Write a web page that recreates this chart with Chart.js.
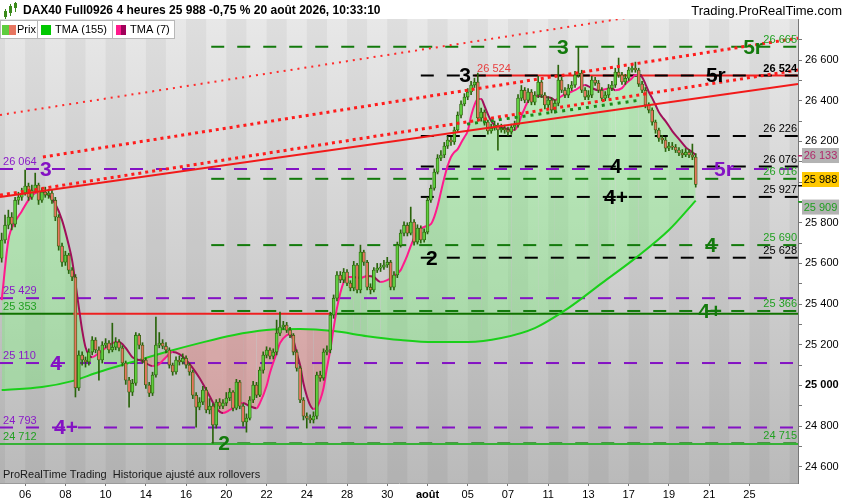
<!DOCTYPE html>
<html lang="fr">
<head>
  <meta charset="UTF-8">
  <title>DAX40 Full0926 4 heures</title>
  <script src="https://cdn.jsdelivr.net/npm/chart.js"></script>
  <style>
    html, body { margin: 0; padding: 0; background: #fff; }
    canvas { display: block; }
  </style>
</head>
<body>
  <canvas id="myChart" width="850" height="500"></canvas>

  <script>
    // bougies 4 heures, une case par barre (6 barres par jour)
    const opens = [
      25626, 25715, 25788, 25828, 25793, 25911, 25926, 25946, 25980, 25926,
      25960, 25985, 25911, 25951, 25936, 25946, 25911, 25828, 25685, 25606,
      25641, 25567, 25533, 24987, 25149, 25125, 25115, 25164, 25223, 25174,
      25125, 25198, 25208, 25174, 25188, 25213, 25184, 25110, 25026, 24967,
      25011, 25247, 25198, 25125, 25002, 24962, 25051, 25198, 25208, 25193,
      25174, 25100, 25066, 25125, 25115, 25134, 25100, 25066, 24952, 24893,
      24918, 24977, 24879, 24898, 24805, 24918, 24898, 24913, 24938, 24967,
      24888, 25016, 24898, 24820, 24839, 24928, 25002, 24952, 25075, 25149,
      25174, 25144, 25164, 25257, 25287, 25297, 25272, 25247, 25164, 25085,
      24928, 24849, 24839, 24830, 24849, 25051, 25036, 25164, 25174, 25346,
      25429, 25543, 25518, 25557, 25503, 25479, 25592, 25469, 25656, 25606,
      25483, 25469, 25567, 25577, 25582, 25592, 25606, 25483, 25543, 25690,
      25749, 25788, 25749, 25803, 25705, 25774, 25715, 25754, 25911, 25970,
      26049, 26118, 26133, 26177, 26207, 26197, 26256, 26329, 26384, 26418,
      26443, 26477, 26492, 26315, 26344, 26295, 26251, 26265, 26280, 26256,
      26265, 26256, 26246, 26270, 26280, 26413, 26452, 26403, 26443, 26393,
      26428, 26492, 26428, 26379, 26403, 26354, 26388, 26502, 26452, 26428,
      26462, 26477, 26526, 26536, 26452, 26418, 26428, 26502, 26487, 26452,
      26413, 26428, 26462, 26477, 26541, 26526, 26492, 26511, 26551, 26561,
      26551, 26482, 26452, 26379, 26354, 26295, 26256, 26216, 26207, 26167,
      26177, 26172, 26157, 26143, 26133, 26147, 26133, 26123
    ];
    const highs = [
      25749, 25838, 25862, 25850, 25925, 25950, 25970, 26059, 25995, 25985,
      26044, 25995, 25970, 25975, 25965, 25960, 25925, 25840, 25700, 25660,
      25650, 25580, 25545, 25170, 25165, 25140, 25180, 25240, 25235, 25190,
      25215, 25230, 25220, 25306, 25235, 25225, 25195, 25120, 25040, 25030,
      25260, 25255, 25210, 25135, 25015, 25065, 25336, 25260, 25225, 25210,
      25185, 25110, 25140, 25145, 25155, 25145, 25110, 25075, 24965, 24940,
      24995, 24990, 24935, 24910, 24930, 24935, 24930, 24965, 24985, 24975,
      25030, 25025, 24910, 24860, 24945, 25020, 25015, 25090, 25165, 25190,
      25185, 25180, 25321, 25361, 25315, 25310, 25285, 25255, 25175, 25095,
      24940, 24865, 24855, 24870, 25065, 25070, 25180, 25195, 25360, 25445,
      25560, 25560, 25575, 25570, 25515, 25610, 25600, 25690, 25665, 25615,
      25500, 25580, 25600, 25600, 25615, 25630, 25615, 25560, 25705, 25765,
      25805, 25800, 25877, 25815, 25790, 25785, 25770, 25925, 25985, 26065,
      26135, 26155, 26195, 26225, 26220, 26270, 26345, 26400, 26435, 26460,
      26495, 26511, 26536, 26364, 26355, 26305, 26285, 26300, 26290, 26285,
      26280, 26270, 26285, 26300, 26430, 26475, 26465, 26460, 26455, 26445,
      26520, 26500, 26440, 26420, 26415, 26405, 26575, 26515, 26465, 26480,
      26495, 26545, 26664, 26550, 26465, 26450, 26520, 26515, 26500, 26465,
      26445, 26480, 26495, 26560, 26610, 26540, 26530, 26565, 26580, 26590,
      26560, 26495, 26465, 26390, 26365, 26305, 26265, 26230, 26220, 26195,
      26195, 26185, 26170, 26160, 26165, 26160, 26187, 26140
    ];
    const lows = [
      25606, 25700, 25770, 25765, 25780, 25890, 25910, 25935, 25910, 25915,
      25950, 25890, 25900, 25925, 25920, 25895, 25810, 25665, 25585, 25590,
      25550, 25515, 24943, 24975, 25100, 25090, 25100, 25150, 25160, 25026,
      25110, 25185, 25160, 25165, 25175, 25170, 25095, 25005, 24893, 24950,
      25000, 25180, 25110, 24985, 24945, 24950, 25040, 25185, 25180, 25160,
      25085, 25050, 25055, 25100, 25105, 25085, 25050, 24935, 24795, 24880,
      24905, 24865, 24860, 24716, 24790, 24885, 24885, 24900, 24925, 24875,
      24880, 24885, 24800, 24770, 24830, 24915, 24940, 24945, 25060, 25135,
      25130, 25130, 25150, 25245, 25275, 25260, 25235, 25150, 25070, 24915,
      24830, 24790, 24815, 24815, 24835, 25020, 25025, 25150, 25160, 25330,
      25415, 25505, 25505, 25490, 25465, 25465, 25455, 25455, 25590, 25470,
      25450, 25460, 25555, 25560, 25570, 25580, 25470, 25470, 25530, 25680,
      25735, 25735, 25740, 25690, 25695, 25700, 25705, 25745, 25900, 25960,
      26040, 26105, 26120, 26165, 26180, 26185, 26245, 26315, 26375, 26405,
      26430, 26465, 26300, 26300, 26280, 26235, 26240, 26255, 26157, 26245,
      26240, 26230, 26235, 26255, 26270, 26400, 26390, 26390, 26380, 26380,
      26415, 26415, 26360, 26365, 26340, 26340, 26375, 26440, 26415, 26415,
      26450, 26465, 26515, 26440, 26405, 26405, 26415, 26475, 26440, 26400,
      26400, 26415, 26450, 26465, 26515, 26480, 26480, 26500, 26540, 26540,
      26470, 26440, 26365, 26340, 26280, 26240, 26200, 26190, 26150, 26155,
      26160, 26145, 26130, 26120, 26125, 26120, 26110, 25975
    ];
    const closes = [
      25715, 25788, 25828, 25793, 25911, 25926, 25946, 25980, 25926, 25960,
      25985, 25911, 25951, 25936, 25946, 25911, 25828, 25685, 25606, 25641,
      25567, 25533, 24987, 25149, 25125, 25115, 25164, 25223, 25174, 25125,
      25198, 25208, 25174, 25188, 25213, 25184, 25110, 25026, 24967, 25011,
      25247, 25198, 25125, 25002, 24962, 25051, 25198, 25208, 25193, 25174,
      25100, 25066, 25125, 25115, 25134, 25100, 25066, 24952, 24893, 24918,
      24977, 24879, 24898, 24805, 24918, 24898, 24913, 24938, 24967, 24888,
      25016, 24898, 24820, 24839, 24928, 25002, 24952, 25075, 25149, 25174,
      25144, 25164, 25257, 25287, 25297, 25272, 25247, 25164, 25085, 24928,
      24849, 24839, 24830, 24849, 25051, 25036, 25164, 25174, 25346, 25429,
      25543, 25518, 25557, 25503, 25479, 25592, 25469, 25656, 25606, 25483,
      25469, 25567, 25577, 25582, 25592, 25606, 25483, 25543, 25690, 25749,
      25788, 25749, 25803, 25705, 25774, 25715, 25754, 25911, 25970, 26049,
      26118, 26133, 26177, 26207, 26197, 26256, 26329, 26384, 26418, 26443,
      26477, 26492, 26315, 26344, 26295, 26251, 26265, 26280, 26256, 26265,
      26256, 26246, 26270, 26280, 26413, 26452, 26403, 26443, 26393, 26428,
      26492, 26428, 26379, 26403, 26354, 26388, 26502, 26452, 26428, 26462,
      26477, 26526, 26536, 26452, 26418, 26428, 26502, 26487, 26452, 26413,
      26428, 26462, 26477, 26541, 26526, 26492, 26511, 26551, 26561, 26551,
      26482, 26452, 26379, 26354, 26295, 26256, 26216, 26207, 26167, 26177,
      26172, 26157, 26143, 26133, 26147, 26133, 26123, 25988
    ];

    // moyennes triangulaires (case -> valeur)
    const tma7Slots = [
      0, 2, 4, 6, 8, 10, 12, 14, 16, 18, 20, 21, 22, 23, 24, 25, 27, 29, 31, 33,
      35, 37, 39, 42, 45, 47, 49, 51, 53, 55, 57, 59, 62, 64, 66, 68, 70, 72, 74, 76,
      77, 79, 80, 82, 83, 85, 86, 87, 88, 89, 90, 91, 92, 93, 94, 95, 96, 97, 98, 99,
      100, 101, 102, 103, 105, 107, 109, 111, 113, 115, 117, 119, 120, 121, 122, 123, 124, 126, 128, 129,
      130, 131, 132, 133, 134, 135, 136, 137, 138, 139, 140, 141, 142, 143, 144, 145, 146, 147, 148, 150,
      152, 153, 154, 155, 156, 157, 158, 160, 162, 164, 165, 167, 169, 171, 173, 174, 176, 178, 180, 182,
      183, 185, 186, 188, 189, 190, 191, 192, 193, 194, 195, 196, 197, 198, 200, 202, 204, 206, 207
    ];
    const tma7Values = [
      25419, 25715, 25803, 25857, 25911, 25946, 25951, 25936, 25892, 25813,
      25690, 25616, 25503, 25385, 25272, 25188, 25139, 25159, 25184, 25208,
      25213, 25184, 25139, 25120, 25095, 25105, 25139, 25164, 25154, 25125,
      25085, 25036, 24948, 24888, 24864, 24879, 24903, 24913, 24898, 24888,
      24913, 24997, 25061, 25159, 25208, 25247, 25252, 25223, 25159, 25100,
      25011, 24948, 24903, 24884, 24893, 24928, 24987, 25085, 25174, 25282,
      25380, 25454, 25508, 25533, 25533, 25528, 25538, 25533, 25508, 25518,
      25538, 25567, 25602, 25641, 25685, 25725, 25759, 25779, 25793, 25828,
      25882, 25951, 26020, 26079, 26123, 26147, 26162, 26192, 26221, 26251,
      26325, 26379, 26408, 26408, 26374, 26334, 26300, 26280, 26270, 26265,
      26256, 26256, 26280, 26325, 26364, 26398, 26418, 26423, 26418, 26413,
      26403, 26423, 26438, 26452, 26472, 26477, 26462, 26452, 26457, 26462,
      26452, 26462, 26482, 26511, 26526, 26526, 26516, 26482, 26443, 26413,
      26379, 26344, 26320, 26300, 26251, 26211, 26172, 26147, 26133
    ];
    const tma155Slots = [0, 12, 21, 29, 39, 49, 59, 69, 79, 89, 99, 109, 119, 129, 139, 149, 159, 169, 179, 189, 199, 207];
    const tma155Values = [
      24977, 24992, 25021, 25066, 25115, 25164, 25208, 25247, 25272, 25277, 25267,
      25242, 25223, 25213, 25213, 25233, 25282, 25380, 25503, 25626, 25764, 25909
    ];

    // niveaux horizontaux et droites de tendance
    const levelValues = [26665, 26524, 26226, 26076, 26064, 26016, 25927, 25690, 25628, 25429, 25366, 25353, 25110, 24793, 24715, 24712];
    const trendFrom = [-0.5, 12.3, -0.5, -0.5, 138.8];
    const trendTo = [237.5, 237.5, 237.5, 237.5, 190.4];
    const trendStart = [26330, 26123, 25936, 25926, 26285];
    const trendEnd = [26938, 26708, 26551, 26482, 26403];

    // axe des dates (une étiquette tous les deux jours)
    const dayLabels = ['06', '08', '10', '14', '16', '20', '22', '24', '28', '30', 'août', '05', '07', '11', '13', '17', '19', '21', '25'];
    const dayLabelSlots = [7, 19, 31, 43, 55, 67, 79, 91, 103, 115, 127, 139, 151, 163, 175, 187, 199, 211, 223];
    const priceTicks = [24600, 24700, 24800, 24900, 25000, 25100, 25200, 25300, 25400, 25500, 25600,
                        25700, 25800, 25900, 26000, 26100, 26200, 26300, 26400, 26500, 26600, 26700];

    const FONT = '"Liberation Sans", Arial, sans-serif';
    const G = '#137a0c', P = '#8412c4', K = '#000000', R = '#ee2020', LG = '#36b236';
    const UP = '#5fcd3e', DOWN = '#e6755f', EDGE = '#2a640c';
    const fmt = v => String(Math.round(v)).replace(/\B(?=(\d{3})+(?!\d))/g, ' ');
    const last = closes.length - 1;

    Chart.defaults.font.family = FONT;
    Chart.defaults.font.size = 11;
    Chart.defaults.color = '#000';

    // styles des niveaux (index dans levelValues)
    const DASH = [13, 13];
    const levelLines = [
      { lv: 0, from: 62.5, color: G, dash: DASH },
      { lv: 1, from: 141, color: R, dash: [] },
      { lv: 1, from: 125, color: K, dash: DASH },
      { lv: 2, from: 125, color: K, dash: DASH },
      { lv: 3, from: 125, color: K, dash: DASH },
      { lv: 4, from: -0.5, color: P, dash: DASH },
      { lv: 5, from: 62.5, color: G, dash: DASH },
      { lv: 6, from: 125, color: K, dash: DASH },
      { lv: 7, from: 62.5, color: G, dash: DASH },
      { lv: 8, from: 125, color: K, dash: DASH },
      { lv: 9, from: -0.5, color: P, dash: DASH },
      { lv: 10, from: 62.5, color: G, dash: DASH },
      { lv: 11, from: -0.5, to: 21.3, color: '#117200', dash: [] },
      { lv: 11, from: 21.3, to: 98, color: R, dash: [] },
      { lv: 11, from: 98, color: '#117200', dash: [] },
      { lv: 12, from: -0.5, color: P, dash: DASH },
      { lv: 13, from: -0.5, color: P, dash: DASH },
      { lv: 14, from: 62.5, color: G, dash: DASH },
      { lv: 15, from: -0.5, color: LG, dash: [] }
    ];
    const trendStyles = [
      { color: '#ff2a2a', width: 2, dash: [2, 5] },
      { color: '#ff1c1c', width: 3, dash: [3, 4] },
      { color: '#ff1c1c', width: 3, dash: [3, 4] },
      { color: '#f21a1a', width: 2, dash: [] },
      { color: '#198c19', width: 3, dash: [3, 5] }
    ];

    const datasets = [
      {
        type: 'line', label: 'TMA (7)', order: 30,
        data: tma7Slots.map((s, i) => ({ x: s, y: tma7Values[i] })),
        borderColor: '#ff1a8c', borderWidth: 2, pointRadius: 0, cubicInterpolationMode: 'monotone',
        segment: { borderColor: c => c.p1.parsed.y >= c.p0.parsed.y ? '#ff1a8c' : '#a0105a' },
        fill: { target: 1, above: 'rgba(100,255,100,0.3)', below: 'rgba(255,90,90,0.28)' }
      },
      {
        type: 'line', label: 'TMA (155)', order: 31,
        data: tma155Slots.map((s, i) => ({ x: s, y: tma155Values[i] })),
        borderColor: '#1ad01a', borderWidth: 2, pointRadius: 0, cubicInterpolationMode: 'monotone', fill: false
      },
      {
        type: 'bar', label: 'Prix', order: 20, grouped: false,
        data: closes.map((c, i) => ({ x: i, y: [opens[i], c] })),
        backgroundColor: c => closes[c.dataIndex] >= opens[c.dataIndex] ? UP : DOWN,
        borderColor: EDGE, borderWidth: 0.8, borderSkipped: false, barThickness: 3, minBarLength: 1
      },
      {
        type: 'bar', label: 'mèches', order: 21, grouped: false,
        data: closes.map((c, i) => ({ x: i, y: [lows[i], highs[i]] })),
        backgroundColor: EDGE, barThickness: 1
      }
    ];
    trendFrom.forEach((f, i) => {
      const st = trendStyles[i];
      datasets.push({
        type: 'line', order: i, data: [{ x: f, y: trendStart[i] }, { x: trendTo[i], y: trendEnd[i] }],
        borderColor: st.color, borderWidth: st.width, borderDash: st.dash, pointRadius: 0, fill: false
      });
    });
    levelLines.forEach((l, i) => {
      const v = levelValues[l.lv];
      datasets.push({
        type: 'line', order: 100 - i, data: [{ x: l.from, y: v }, { x: l.to ?? 237.5, y: v }],
        borderColor: l.color, borderWidth: 2, borderDash: l.dash, pointRadius: 0, fill: false
      });
    });

    // étiquettes des niveaux
    const bigTags = [
      ['3', 13.2, 26064, P], ['4', 16.2, 25110, P], ['4+', 19.2, 24793, P], ['5r', 215.4, 26064, P],
      ['3', 138.2, 26524, K], ['5r', 213, 26524, K], ['4', 183.2, 26076, K], ['4+', 183.2, 25927, K], ['2', 128.3, 25628, K],
      ['3', 167.4, 26665, G], ['5r', 224.1, 26665, G], ['4', 211.5, 25690, G], ['4+', 211.3, 25366, G], ['2', 66.3, 24715, G]
    ];
    const leftTags = [[26064, '#8a1ac8'], [25429, '#8a1ac8'], [25353, '#22a022'], [25110, '#8a1ac8'], [24793, '#8a1ac8'], [24712, '#22a022']];
    const rightTags = [[26665, '#22a022'], [26524, K, true], [26226, K], [26076, K], [26016, '#22a022'],
                       [25927, K], [25690, '#22a022'], [25628, K], [25366, '#22a022'], [24715, '#22a022']];

    const background = {
      id: 'background',
      beforeDraw(chart) {
        const { ctx, chartArea: a, scales: { x } } = chart;
        ctx.save();
        ctx.fillStyle = '#fff';
        ctx.fillRect(0, 0, chart.width, chart.height);
        const g = ctx.createLinearGradient(0, a.top, 0, a.bottom);
        g.addColorStop(0, '#e8e8e8');
        g.addColorStop(1, '#bababa');
        ctx.fillStyle = g;
        ctx.fillRect(a.left, a.top, a.right - a.left, a.bottom - a.top);
        ctx.beginPath();
        ctx.rect(a.left, a.top, a.right - a.left, a.bottom - a.top);
        ctx.clip();
        ctx.fillStyle = 'rgba(0,0,0,0.045)';
        for (let k = -2; k < 40; k++) {
          if (k % 2 !== 0) continue;
          const x0 = x.getPixelForValue(7 + 6 * k), x1 = x.getPixelForValue(13 + 6 * k);
          ctx.fillRect(x0, a.top, x1 - x0, a.bottom - a.top);
        }
        ctx.restore();
      }
    };

    const overlay = {
      id: 'overlay',
      afterDatasetsDraw(chart) {
        const { ctx, scales: { x, y } } = chart;
        ctx.save();
        ctx.textBaseline = 'middle';
        ctx.textAlign = 'center';
        ctx.font = `bold 21px ${FONT}`;
        bigTags.forEach(([t, s, v, c]) => {
          ctx.fillStyle = c;
          ctx.fillText(t, x.getPixelForValue(s), y.getPixelForValue(v) + 1);
        });
        ctx.font = `11px ${FONT}`;
        ctx.textAlign = 'left';
        leftTags.forEach(([v, c]) => {
          ctx.fillStyle = c;
          ctx.fillText(fmt(v), x.getPixelForValue(0.4), y.getPixelForValue(v) - 7);
        });
        ctx.fillStyle = '#e84040';
        ctx.fillText(fmt(26524), x.getPixelForValue(141.8), y.getPixelForValue(26524) - 7);
        ctx.textAlign = 'right';
        rightTags.forEach(([v, c, b]) => {
          ctx.fillStyle = c;
          ctx.font = `${b ? 'bold ' : ''}11px ${FONT}`;
          ctx.fillText(fmt(v), x.getPixelForValue(237.2), y.getPixelForValue(v) - 7);
        });
        ctx.restore();
      },
      afterDraw(chart) {
        const { ctx, chartArea: a, scales: { y } } = chart;
        ctx.save();
        // en-tête
        ctx.fillStyle = '#3a8a1a';
        ctx.fillRect(5, 9, 1, 10); ctx.fillRect(4, 11, 3, 6);
        ctx.fillRect(10, 4, 1, 12); ctx.fillRect(9, 6, 3, 7);
        ctx.fillRect(15, 2, 1, 10); ctx.fillRect(14, 3, 3, 5);
        ctx.fillStyle = '#000';
        ctx.textBaseline = 'middle';
        ctx.textAlign = 'left';
        ctx.font = `bold 12px ${FONT}`;
        ctx.fillText(`DAX40 Full0926 4 heures ${fmt(closes[last])} -0,75 % 20 août 2026, 10:33:10`, 23, 11);
        ctx.font = `13px ${FONT}`;
        ctx.textAlign = 'right';
        ctx.fillText('Trading.ProRealTime.com', 842, 11);

        // légende
        ctx.fillStyle = '#fff';
        ctx.fillRect(0, 20, 175, 19);
        ctx.strokeStyle = '#b8b8b8';
        ctx.lineWidth = 1;
        ctx.strokeRect(0.5, 20.5, 174, 18);
        ctx.beginPath();
        ctx.moveTo(37.5, 20); ctx.lineTo(37.5, 39);
        ctx.moveTo(112.5, 20); ctx.lineTo(112.5, 39);
        ctx.stroke();
        ctx.fillStyle = UP; ctx.fillRect(2, 25, 7, 10);
        ctx.fillStyle = DOWN; ctx.fillRect(9, 25, 7, 10);
        ctx.fillStyle = '#00c800'; ctx.fillRect(41, 25, 10, 10);
        ctx.fillStyle = '#ff1a8c'; ctx.fillRect(116, 25, 5, 10);
        ctx.fillStyle = '#a0005a'; ctx.fillRect(121, 25, 5, 10);
        ctx.fillStyle = '#000';
        ctx.textAlign = 'left';
        ctx.font = `11px ${FONT}`;
        ctx.fillText('Prix', 17, 30);
        ctx.fillText('TMA (155)', 55, 30);
        ctx.fillText('TMA (7)', 130, 30);

        // pied
        ctx.font = `11px ${FONT}`;
        ctx.fillStyle = '#1a1a1a';
        ctx.fillText('ProRealTime Trading  Historique ajusté aux rollovers', 3, 475);

        // valeurs courantes sur l'axe
        const boxes = [
          [tma7Values[tma7Values.length - 1], '#b3b3b3', '#b0286a', 0],
          [closes[last], '#ffc800', '#000', -5.5],
          [tma155Values[tma155Values.length - 1], '#b3b3b3', '#1e9e1e', 6]
        ];
        ctx.textAlign = 'center';
        ctx.font = `11px ${FONT}`;
        boxes.forEach(([v, bg, fg, dy]) => {
          const py = y.getPixelForValue(v);
          ctx.fillStyle = fg;
          ctx.fillRect(a.right, Math.round(py), 4, 1.5);
          ctx.fillStyle = bg;
          ctx.fillRect(a.right + 4, py + dy - 7, 37, 15);
          ctx.fillStyle = fg;
          ctx.fillText(fmt(v), a.right + 22.5, py + dy + 1);
        });
        ctx.restore();
      }
    };

    new Chart(document.getElementById('myChart'), {
      type: 'bar',
      data: { datasets: datasets },
      options: {
        responsive: false,
        animation: false,
        events: [],
        layout: { padding: { top: 19, left: 0, right: 0, bottom: 0 } },
        plugins: {
          legend: { display: false },
          tooltip: { enabled: false },
          filler: { drawTime: 'beforeDatasetsDraw' }
        },
        scales: {
          x: {
            type: 'linear', min: -0.5, max: 237.5, offset: false,
            afterBuildTicks: s => { s.ticks = dayLabelSlots.map(v => ({ value: v })); },
            afterFit: s => { s.height = 17; },
            ticks: {
              autoSkip: false, maxRotation: 0, padding: 2, color: '#000',
              font: c => ({ size: 11, weight: c.tick && c.tick.value === 127 ? 'bold' : 'normal' }),
              callback: v => dayLabels[dayLabelSlots.indexOf(v)] ?? ''
            },
            grid: { drawOnChartArea: false, offset: false, tickLength: 3, color: '#777' },
            border: { color: '#9a9a9a' }
          },
          y: {
            position: 'right', min: 24520, max: 26802,
            afterBuildTicks: s => { s.ticks = priceTicks.map(v => ({ value: v })); },
            afterFit: s => { s.width = 52; },
            ticks: {
              padding: 3, color: '#000',
              font: c => ({ size: 11, weight: c.tick && c.tick.value === 25000 ? 'bold' : 'normal' }),
              callback: v => v % 200 === 0 ? fmt(v) : ''
            },
            grid: { drawOnChartArea: false, tickLength: 4, color: '#777' },
            border: { color: '#777' }
          }
        }
      },
      plugins: [background, overlay]
    });
  </script>
</body>
</html>
